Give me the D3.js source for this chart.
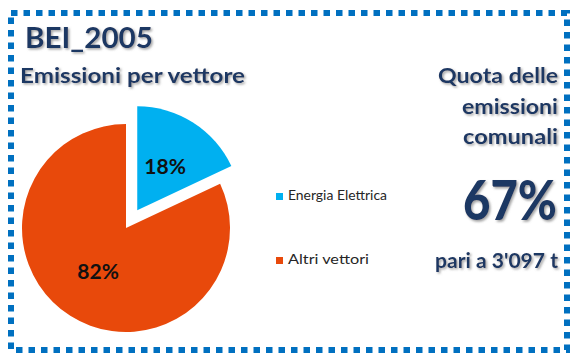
<!DOCTYPE html>
<html>
<head>
<meta charset="utf-8">
<script src="https://cdn.jsdelivr.net/npm/d3@7"></script>
<style>
  html, body { margin: 0; padding: 0; background: #fff; }
  svg { display: block; font-family: Lato, "Open Sans", sans-serif; }
</style>
</head>
<body>
<svg id="chart" width="570" height="355"></svg>
<script>
// Emission shares by energy carrier (percent)
const categories = ["Energia Elettrica", "Altri vettori"];
const shares = [18, 82];
const sliceColors = ["#00B0F0", "#E8490B"];

// Header and side texts
const titleText = "BEI_2005";
const subtitleText = "Emissioni per vettore";
const quotaLines = ["Quota delle", "emissioni", "comunali"];
const quotaValue = "67%";
const quotaTonnes = "pari a 3'097 t";

const svg = d3.select("#chart");
const navy = "#1F3864";

// soft grey drop shadow used by the headline texts
const defs = svg.append("defs");
const shadow = defs.append("filter").attr("id", "shadow")
  .attr("x", "-10%").attr("y", "-25%").attr("width", "125%").attr("height", "160%");
shadow.append("feDropShadow")
  .attr("dx", 1.5).attr("dy", 1.5).attr("stdDeviation", 0.8)
  .attr("flood-color", "#8c8c8c").attr("flood-opacity", 0.8);

// stretch a text element to a fixed rendered width
function fitWidth(sel, w) {
  sel.attr("textLength", w).attr("lengthAdjust", "spacingAndGlyphs");
  return sel;
}

// dotted frame
svg.append("rect")
  .attr("x", 11).attr("y", 13).attr("width", 556).attr("height", 337)
  .attr("fill", "none").attr("stroke", "#0070C0")
  .attr("stroke-width", 6).attr("stroke-dasharray", "6.5 6");

// title and subtitle
fitWidth(svg.append("text").attr("x", 25).attr("y", 48)
  .attr("font-size", 28).attr("font-weight", 700).attr("fill", navy)
  .attr("filter", "url(#shadow)").text(titleText), 128);
fitWidth(svg.append("text").attr("x", 20).attr("y", 83)
  .attr("font-size", 21).attr("font-weight", 700).attr("fill", navy)
  .attr("filter", "url(#shadow)").text(subtitleText), 225);

// pie
const cx = 126, cy = 228, radius = 104, explode = 21;
const pie = d3.pie().sort(null).value(d => d)(shares);
const arc = d3.arc().innerRadius(0).outerRadius(radius);
const labelArc = d3.arc().innerRadius(radius * 0.5).outerRadius(radius * 0.5);

const g = svg.append("g").attr("transform", `translate(${cx},${cy})`);
const slices = g.selectAll("g.slice").data(pie).join("g")
  .attr("class", "slice")
  .attr("transform", (d, i) => {
    if (i !== 0) return null;
    const a = (d.startAngle + d.endAngle) / 2;
    return `translate(${explode * Math.sin(a)},${-explode * Math.cos(a)})`;
  });
slices.append("path")
  .attr("d", arc)
  .attr("fill", (d, i) => sliceColors[i]);
slices.append("text")
  .attr("transform", d => `translate(${labelArc.centroid(d)})`)
  .attr("text-anchor", "middle").attr("dy", "0.36em")
  .attr("font-size", 21).attr("font-weight", 700).attr("fill", "#111")
  .text(d => d.data + "%");

// legend
const legend = svg.append("g");
const legendY = [193, 257];
const legendWidths = [99, 81];
const items = legend.selectAll("g").data(categories).join("g")
  .attr("transform", (d, i) => `translate(276,${legendY[i]})`);
items.append("rect").attr("width", 7).attr("height", 7)
  .attr("fill", (d, i) => sliceColors[i]);
items.append("text").attr("x", 12).attr("y", 7)
  .attr("font-size", 13).attr("fill", "#262626")
  .attr("textLength", (d, i) => legendWidths[i]).attr("lengthAdjust", "spacingAndGlyphs")
  .text(d => d);

// share of municipal emissions
const right = 558;
const quotaWidths = [120, 96, 95];
svg.selectAll("text.quota").data(quotaLines).join("text")
  .attr("class", "quota")
  .attr("x", (d, i) => right - quotaWidths[i]).attr("y", (d, i) => 83 + i * 30.5)
  .attr("font-size", 21).attr("font-weight", 700).attr("fill", navy)
  .attr("textLength", (d, i) => quotaWidths[i]).attr("lengthAdjust", "spacingAndGlyphs")
  .attr("filter", "url(#shadow)").text(d => d);
// big percentage: narrower font, stretched vertically
fitWidth(svg.append("text")
  .attr("transform", "translate(463,220) scale(1,1.17)")
  .attr("font-size", 47).attr("font-weight", 900).attr("fill", navy)
  .attr("filter", "url(#shadow)").text(quotaValue), 94);
fitWidth(svg.append("text").attr("x", 435).attr("y", 268)
  .attr("font-size", 20).attr("font-weight", 700).attr("fill", navy)
  .attr("filter", "url(#shadow)").text(quotaTonnes), 123);
</script>
</body>
</html>
